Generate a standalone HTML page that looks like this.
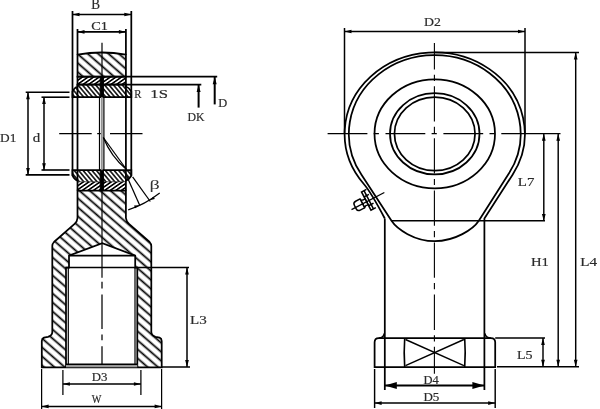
<!DOCTYPE html>
<html><head><meta charset="utf-8"><style>
html,body{margin:0;padding:0;background:#fff;width:600px;height:409px;overflow:hidden}
svg{display:block;will-change:transform}
text{font-family:"Liberation Serif";fill:#2a2a2a;stroke:#2a2a2a;stroke-width:0.6px}
</style></head><body>
<svg width="600" height="409" viewBox="0 0 600 409">
<g stroke="#000" fill="none" stroke-linecap="butt">

<defs>
<pattern id="hb" patternUnits="userSpaceOnUse" width="6.8" height="6.8" patternTransform="rotate(-49)">
  <line x1="3.4" y1="0" x2="3.4" y2="6.8" stroke="#000" stroke-width="1.75"/>
</pattern>
<pattern id="hs" patternUnits="userSpaceOnUse" width="3.2" height="3.2" patternTransform="rotate(55)">
  <line x1="1.6" y1="0" x2="1.6" y2="3.2" stroke="#000" stroke-width="1.65"/>
</pattern>
<pattern id="hb2" patternUnits="userSpaceOnUse" width="3.4" height="3.4" patternTransform="rotate(-40)">
  <line x1="1.7" y1="0" x2="1.7" y2="3.4" stroke="#000" stroke-width="1.5"/>
</pattern>
</defs>

<path d="M77.5,54.7 Q101.8,50.3 125.9,54.7 L125.9,76.7 L77.5,76.7 Z" fill="url(#hb)" stroke="#000" stroke-width="1.75"/>
<rect x="77.5" y="76.7" width="48.400000000000006" height="7.799999999999997" fill="url(#hs)" stroke="#000" stroke-width="1.75"/>
<path d="M72.5,97.0 L72.5,91.5 Q74.5,87.5 77.5,86.5 L77.5,84.5 L125.9,84.5 L125.9,86.5 Q129,87.5 131.3,91.5 L131.3,97.0 Z" fill="url(#hb2)" stroke="#000" stroke-width="1.75"/>
<path d="M72.5,170.2 L72.5,175.7 Q74.5,179.7 77.5,180.7 L77.5,181.8 L125.9,181.8 L125.9,180.7 Q129,179.7 131.3,175.7 L131.3,170.2 Z" fill="url(#hb2)" stroke="none"/>
<rect x="77.5" y="181.8" width="48.400000000000006" height="8.699999999999989" fill="url(#hs)" stroke="none"/>
<path d="M77.5,180.7 Q74.5,179.7 72.5,175.7 L72.5,170.2 L131.3,170.2 L131.3,175.7 Q129,179.7 125.9,180.7" fill="none" stroke-width="1.75"/>
<line x1="78.50" y1="181.80" x2="124.90" y2="181.80" stroke-width="0.6" />
<rect x="100.2" y="76.7" width="3.2" height="20.299999999999997" fill="#000"/>
<rect x="100.2" y="170.2" width="3.2" height="20.299999999999997" fill="#000"/>
<path d="M77.5,190.5 L125.9,190.5 L125.9,218 Q126.3,221.5 129,223.8 L149.6,242 Q151.3,243.8 151.3,246 L151.3,332 Q151.5,335.5 155.5,336.8 L159.5,337.6 Q161.7,338.5 161.7,341 L161.7,367.3 L41.8,367.3 L41.8,341 Q41.8,338.5 44,337.6 L48,336.8 Q52.3,335.5 52.3,332 L52.3,246 Q52.3,243.8 54,242 L74.6,223.8 Q77.3,221.5 77.5,218 Z M66,367.3 L66,267.5 L69,267.5 L69,255.6 L102.3,243.3 L135.2,255.6 L135.2,267.5 L137.3,267.5 L137.3,367.3 Z" fill="url(#hb)" fill-rule="evenodd" stroke="#000" stroke-width="1.75"/>
<line x1="72.50" y1="11.00" x2="72.50" y2="175.70" stroke-width="1.75" />
<line x1="131.30" y1="11.00" x2="131.30" y2="175.70" stroke-width="1.75" />
<line x1="77.50" y1="29.00" x2="77.50" y2="54.70" stroke-width="1.75" />
<line x1="125.90" y1="29.00" x2="125.90" y2="54.70" stroke-width="1.75" />
<line x1="77.50" y1="84.50" x2="77.50" y2="190.50" stroke-width="1.75" />
<line x1="125.90" y1="84.50" x2="125.90" y2="190.50" stroke-width="1.75" />
<line x1="99.50" y1="97.00" x2="99.50" y2="170.20" stroke-width="1.2" />
<line x1="103.90" y1="97.00" x2="103.90" y2="170.20" stroke-width="1.2" />
<line x1="72.50" y1="14.50" x2="131.30" y2="14.50" stroke-width="1.6" />
<polygon points="72.50,14.50 79.50,12.65 79.50,16.35" fill="#000" stroke="none"/>
<polygon points="131.30,14.50 124.30,16.35 124.30,12.65" fill="#000" stroke="none"/>
<line x1="77.50" y1="31.90" x2="125.90" y2="31.90" stroke-width="1.6" />
<polygon points="77.50,31.90 84.50,30.05 84.50,33.75" fill="#000" stroke="none"/>
<polygon points="125.90,31.90 118.90,33.75 118.90,30.05" fill="#000" stroke="none"/>
<line x1="125.90" y1="76.70" x2="217.20" y2="76.70" stroke-width="1.75" />
<line x1="125.90" y1="84.50" x2="201.30" y2="84.50" stroke-width="1.75" />
<line x1="214.70" y1="76.70" x2="214.70" y2="104.40" stroke-width="2.0" />
<polygon points="214.70,77.20 216.70,84.20 212.70,84.20" fill="#000" stroke="none"/>
<line x1="198.60" y1="84.50" x2="198.60" y2="107.60" stroke-width="2.0" />
<polygon points="198.60,85.00 200.60,92.00 196.60,92.00" fill="#000" stroke="none"/>
<line x1="25.70" y1="92.30" x2="69.50" y2="92.30" stroke-width="1.6" />
<line x1="25.70" y1="174.90" x2="69.50" y2="174.90" stroke-width="1.6" />
<line x1="41.50" y1="97.20" x2="69.50" y2="97.20" stroke-width="1.6" />
<line x1="41.50" y1="170.00" x2="69.50" y2="170.00" stroke-width="1.6" />
<line x1="28.00" y1="92.30" x2="28.00" y2="174.90" stroke-width="1.5" />
<polygon points="28.00,92.30 29.85,99.30 26.15,99.30" fill="#000" stroke="none"/>
<polygon points="28.00,174.90 26.15,167.90 29.85,167.90" fill="#000" stroke="none"/>
<line x1="44.00" y1="97.00" x2="44.00" y2="170.20" stroke-width="1.5" />
<polygon points="44.00,97.00 45.85,104.00 42.15,104.00" fill="#000" stroke="none"/>
<polygon points="44.00,170.20 42.15,163.20 45.85,163.20" fill="#000" stroke="none"/>
<line x1="102.00" y1="42.70" x2="102.00" y2="97.00" stroke-width="1.2" />
<line x1="101.90" y1="97.00" x2="101.90" y2="170.20" stroke-width="1.6" stroke="#888"/>
<line x1="102.00" y1="170.20" x2="102.00" y2="277.70" stroke-width="1.2" />
<line x1="102.00" y1="281.70" x2="102.00" y2="288.50" stroke-width="1.25" />
<line x1="102.00" y1="294.40" x2="102.00" y2="329.00" stroke-width="1.25" />
<line x1="102.00" y1="334.40" x2="102.00" y2="340.20" stroke-width="1.25" />
<line x1="102.00" y1="346.20" x2="102.00" y2="367.30" stroke-width="1.25" />
<line x1="59.20" y1="133.60" x2="91.70" y2="133.60" stroke-width="1.25" />
<line x1="97.20" y1="133.60" x2="100.80" y2="133.60" stroke-width="1.25" />
<line x1="110.00" y1="133.60" x2="142.50" y2="133.60" stroke-width="1.25" />
<line x1="103.30" y1="137.50" x2="126.50" y2="169.50" stroke-width="1.25" />
<path d="M103.3,137.5 Q110.9,156.5 126.5,169.5" fill="none" stroke-width="1.25"/>
<line x1="126.70" y1="176.10" x2="139.80" y2="205.50" stroke-width="1.25" />
<line x1="132.60" y1="176.90" x2="150.30" y2="201.50" stroke-width="1.25" />
<path d="M128.2,209.9 Q145,204.5 159.7,193" fill="none" stroke-width="1.2"/>
<polygon points="139.30,205.20 135.08,208.27 134.09,205.44" fill="#000" stroke="none"/>
<polygon points="149.70,200.20 153.36,196.48 154.80,199.10" fill="#000" stroke="none"/>
<line x1="69.00" y1="255.60" x2="135.20" y2="255.60" stroke-width="1.6" />
<line x1="66.00" y1="267.50" x2="189.00" y2="267.50" stroke-width="1.6" />
<line x1="68.30" y1="267.50" x2="68.30" y2="364.30" stroke-width="1.2" />
<line x1="135.00" y1="267.50" x2="135.00" y2="364.30" stroke-width="1.2" />
<rect x="66" y="364.3" width="71.3" height="3" fill="#999" stroke="none"/>
<line x1="66.00" y1="364.30" x2="137.30" y2="364.30" stroke-width="1.5" />
<line x1="187.00" y1="267.50" x2="187.00" y2="367.00" stroke-width="1.5" />
<polygon points="187.00,267.50 188.85,274.50 185.15,274.50" fill="#000" stroke="none"/>
<polygon points="187.00,367.00 185.15,360.00 188.85,360.00" fill="#000" stroke="none"/>
<line x1="161.70" y1="367.00" x2="190.00" y2="367.00" stroke-width="1.5" />
<line x1="62.90" y1="370.00" x2="62.90" y2="395.00" stroke-width="1.25" />
<line x1="140.90" y1="370.00" x2="140.90" y2="395.00" stroke-width="1.25" />
<line x1="62.90" y1="384.00" x2="140.90" y2="384.00" stroke-width="1.5" />
<polygon points="62.90,384.00 69.90,382.15 69.90,385.85" fill="#000" stroke="none"/>
<polygon points="140.90,384.00 133.90,385.85 133.90,382.15" fill="#000" stroke="none"/>
<line x1="41.60" y1="369.00" x2="41.60" y2="409.00" stroke-width="1.25" />
<line x1="161.60" y1="369.00" x2="161.60" y2="409.00" stroke-width="1.25" />
<line x1="41.60" y1="406.40" x2="161.60" y2="406.40" stroke-width="1.5" />
<polygon points="41.60,406.40 48.60,404.55 48.60,408.25" fill="#000" stroke="none"/>
<polygon points="161.60,406.40 154.60,408.25 154.60,404.55" fill="#000" stroke="none"/>
<ellipse cx="434.75" cy="133.8" rx="60.25" ry="54.5" fill="none" stroke-width="1.75"/>
<ellipse cx="434.75" cy="133.8" rx="44.75" ry="40.6" fill="none" stroke-width="1.75"/>
<ellipse cx="434.75" cy="133.8" rx="40.3" ry="36.8" fill="none" stroke-width="1.75"/>
<path d="M384.8,218.5 Q371.1,192.4 363.82,184.00 A90.1,81.4 0 1 1 512.6,174.7 L484.4,218.5 L484.4,390" fill="none" stroke-width="1.75"/>
<line x1="384.80" y1="218.50" x2="384.80" y2="390.00" stroke-width="1.75" />
<path d="M434.75,241.2 C414.5,241.2 397,229.2 391.5,220.8 L361.5,174.8 A85.9,78.6 0 1 1 509,173.3 L478.8,220.8 C473.4,229.2 455,241.2 434.75,241.2 Z" fill="none" stroke-width="1.75"/>
<line x1="391.50" y1="220.80" x2="545.00" y2="220.80" stroke-width="1.5" />
<path d="M374.6,367.1 L374.6,342.3 Q374.6,338 378.8,338 L490.9,338 Q495.2,338 495.2,342.3 L495.2,367.1 Z" fill="none" stroke-width="1.75"/>
<path d="M378.8,338 Q383.5,338 384.3,333.5 M490.9,338 Q485.7,338 484.9,333.5" fill="none" stroke-width="1.5"/>
<path d="M404.7,338 Q403.7,352.5 404.7,367.1 M464.7,338 Q465.7,352.5 464.7,367.1" fill="none" stroke-width="1.6"/>
<line x1="405.50" y1="339.50" x2="463.90" y2="365.60" stroke-width="1.4" />
<line x1="405.50" y1="365.60" x2="463.90" y2="339.50" stroke-width="1.4" />
<line x1="434.4" y1="42.9" x2="434.4" y2="373.7" stroke-width="1.1" stroke-dasharray="35.3,5.3,6.2,5.3" stroke-dashoffset="8.8"/>
<line x1="327.6" y1="133.6" x2="501.3" y2="133.6" stroke-width="1.1" stroke-dasharray="39.8,6.3,5.2,6.6"/>
<line x1="501.30" y1="133.60" x2="560.50" y2="133.60" stroke-width="1.25" />
<line x1="344.50" y1="28.00" x2="344.50" y2="133.00" stroke-width="1.5" />
<line x1="525.00" y1="28.00" x2="525.00" y2="133.00" stroke-width="1.5" />
<line x1="344.50" y1="31.50" x2="525.00" y2="31.50" stroke-width="1.5" />
<polygon points="344.50,31.50 351.50,29.65 351.50,33.35" fill="#000" stroke="none"/>
<polygon points="525.00,31.50 518.00,33.35 518.00,29.65" fill="#000" stroke="none"/>
<line x1="434.50" y1="52.50" x2="579.00" y2="52.50" stroke-width="1.5" />
<line x1="575.70" y1="52.50" x2="575.70" y2="366.80" stroke-width="1.45" />
<polygon points="575.70,52.50 577.55,59.50 573.85,59.50" fill="#000" stroke="none"/>
<polygon points="575.70,366.80 573.85,359.80 577.55,359.80" fill="#000" stroke="none"/>
<line x1="558.20" y1="133.80" x2="558.20" y2="366.80" stroke-width="1.45" />
<polygon points="558.20,133.80 560.05,140.80 556.35,140.80" fill="#000" stroke="none"/>
<polygon points="558.20,366.80 556.35,359.80 560.05,359.80" fill="#000" stroke="none"/>
<line x1="543.80" y1="133.80" x2="543.80" y2="221.00" stroke-width="1.45" />
<polygon points="543.80,133.80 545.65,140.80 541.95,140.80" fill="#000" stroke="none"/>
<polygon points="543.80,221.00 541.95,214.00 545.65,214.00" fill="#000" stroke="none"/>
<line x1="495.20" y1="338.00" x2="545.00" y2="338.00" stroke-width="1.5" />
<line x1="497.00" y1="366.80" x2="579.00" y2="366.80" stroke-width="1.5" />
<line x1="543.00" y1="338.00" x2="543.00" y2="366.80" stroke-width="1.45" />
<polygon points="543.00,338.00 544.85,345.00 541.15,345.00" fill="#000" stroke="none"/>
<polygon points="543.00,366.80 541.15,359.80 544.85,359.80" fill="#000" stroke="none"/>
<line x1="384.80" y1="385.50" x2="484.40" y2="385.50" stroke-width="2.0" />
<polygon points="384.80,385.50 396.80,382.10 396.80,388.90" fill="#000" stroke="none"/>
<polygon points="484.40,385.50 472.40,388.90 472.40,382.10" fill="#000" stroke="none"/>
<line x1="374.60" y1="369.00" x2="374.60" y2="408.00" stroke-width="1.45" />
<line x1="495.20" y1="369.00" x2="495.20" y2="408.00" stroke-width="1.45" />
<line x1="374.60" y1="403.10" x2="495.20" y2="403.10" stroke-width="1.5" />
<polygon points="374.60,403.10 381.60,401.25 381.60,404.95" fill="#000" stroke="none"/>
<polygon points="495.20,403.10 488.20,404.95 488.20,401.25" fill="#000" stroke="none"/>
<g transform="matrix(-0.887,0.461,0.461,0.887,372.8,198.5)" stroke-width="1.5" fill="none"><path d="M1.5,-11 L7,-11 L7,9.5 L1.5,9.5" fill="#fff"/><path d="M7,-3.5 Q9,-2.5 11.5,-4 L11.5,4 Q9,2.5 7,3.5 Z" fill="#fff"/><path d="M11.5,-5.5 L16.5,-5.5 Q19.5,-5.5 19.5,-2.5 L19.5,1.5 Q19.5,4.5 16.5,4.5 L11.5,4.5 Z" fill="#fff"/><line x1="4.2" y1="-11" x2="4.2" y2="9.5"/><line x1="1.5" y1="-5.5" x2="7" y2="-5.5"/><line x1="1.5" y1="4.5" x2="7" y2="4.5"/><line x1="-13" y1="0" x2="24" y2="0" stroke-width="1.3"/></g>
</g>
<g>
<text transform="matrix(0.3292,0,0,0.3615,91.27,8.80)" font-size="40">B</text>
<text transform="matrix(0.3571,0,0,0.3231,91.19,29.52)" font-size="40">C1</text>
<text transform="matrix(0.2692,0,0,0.3231,134.23,97.70)" font-size="40">R</text>
<text transform="matrix(0.4167,0,0,0.3231,150.33,97.70)" font-size="40">1S</text>
<text transform="matrix(0.3115,0,0,0.3231,218.19,106.65)" font-size="40">D</text>
<text transform="matrix(0.2965,0,0,0.3231,187.50,121.00)" font-size="40">DK</text>
<text transform="matrix(0.3337,0,0,0.3231,0.07,141.57)" font-size="40">D1</text>
<text transform="matrix(0.3737,0,0,0.3231,32.63,141.68)" font-size="40">d</text>
<text transform="matrix(0.3213,0,0,0.3231,91.68,381.20)" font-size="40">D3</text>
<text transform="matrix(0.2553,0,0,0.3231,91.80,402.74)" font-size="40">W</text>
<text transform="matrix(0.3762,0,0,0.3231,190.12,324.40)" font-size="40">L3</text>
<text transform="matrix(0.3457,0,0,0.3231,423.95,25.70)" font-size="40">D2</text>
<text transform="matrix(0.3714,0,0,0.3231,517.83,186.40)" font-size="40">L7</text>
<text transform="matrix(0.3663,0,0,0.3231,530.88,265.88)" font-size="40">H1</text>
<text transform="matrix(0.3791,0,0,0.3231,580.22,265.88)" font-size="40">L4</text>
<text transform="matrix(0.3500,0,0,0.3231,516.95,358.70)" font-size="40">L5</text>
<text transform="matrix(0.3128,0,0,0.3231,423.49,383.55)" font-size="40">D4</text>
<text transform="matrix(0.3255,0,0,0.3231,423.47,400.50)" font-size="40">D5</text>
<text transform="matrix(0.5062,0,0,0.3231,149.38,189.12)" font-size="40" style="stroke:none;fill:#333">β</text>
</g>
</svg>
</body></html>
